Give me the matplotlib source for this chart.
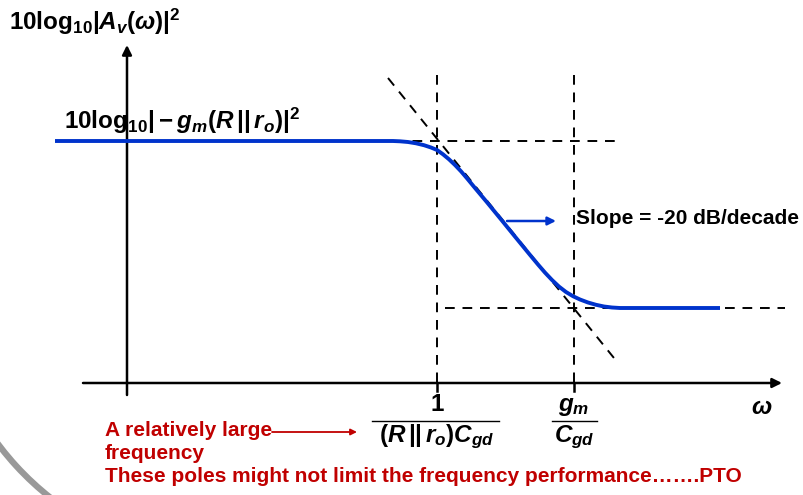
import matplotlib
matplotlib.use("Agg")
import matplotlib.pyplot as plt
from matplotlib.patches import Arc

plt.rcParams['font.family'] = ['Liberation Sans', 'DejaVu Sans']
plt.rcParams['mathtext.fontset'] = 'custom'
plt.rcParams['mathtext.rm'] = 'Liberation Sans:bold'
plt.rcParams['mathtext.bf'] = 'Liberation Sans:bold'
plt.rcParams['mathtext.it'] = 'Liberation Sans:italic:bold'
plt.rcParams['mathtext.sf'] = 'Liberation Sans:bold'

# ---- data (diagram coordinates, y grows downward) ----
curve_x = [55, 393, 400, 408, 416, 424, 431, 437, 443, 449, 455, 461, 467, 475,
           487, 502, 515, 530, 538, 545, 552, 559, 566, 573, 580, 588, 596, 604,
           612, 620, 628, 720]
curve_y = [141, 141, 141.3, 142, 143.3, 145.2, 147.5, 150, 154.3, 159.3, 165,
           171.3, 178.3, 188, 202.3, 220.6, 236.6, 254.9, 264.5, 272.6, 280,
           286.6, 292, 296.2, 299.5, 302.5, 304.8, 306.5, 307.5, 308, 308, 308]

pole_x = 437          # 1/((R||ro)Cgd)
zero_x = 574          # gm/Cgd
high_level = 141      # 10log10|-gm(R||ro)|^2
low_level = 308
asym_x = [388, 618]   # -20 dB/decade asymptote
asym_y = [78, 363]

axis_y = 383
axis_x = 127

y_label = r'$\mathrm{10log}_{\mathrm{10}}|A_v(\omega)|^2$'
gain_label = r'$\mathrm{10log}_{\mathrm{10}}|-g_m(R\,||\,r_o)|^2$'
slope_label = 'Slope = -20 dB/decade'
pole_num, pole_den = r'$\mathrm{1}$', r'$(R\,||\,r_o)C_{gd}$'
zero_num, zero_den = r'$g_m$', r'$C_{gd}$'
note_lines = ['A relatively large', 'frequency',
              'These poles might not limit the frequency performance\u2026\u2026.PTO']

# ---- figure ----
fig = plt.figure(figsize=(8.04, 4.95), dpi=100)
ax = fig.add_axes([0, 0, 1, 1])
ax.set_xlim(0, 804)
ax.set_ylim(495, 0)
ax.axis('off')

black = 'black'
blue = '#0033CC'
red = '#C00000'

# axes with arrows
ax.annotate('', xy=(axis_x, 45), xytext=(axis_x, 395),
            arrowprops=dict(arrowstyle='-|>', color=black, lw=1.8,
                            mutation_scale=14, shrinkA=0, shrinkB=0))
ax.annotate('', xy=(782, axis_y), xytext=(83, axis_y),
            arrowprops=dict(arrowstyle='-|>', color=black, lw=1.8,
                            mutation_scale=14, shrinkA=0, shrinkB=0))
for tx in (pole_x, zero_x):
    ax.plot([tx, tx], [axis_y, axis_y + 8], color=black, lw=1.8)

# dashed guides
dash = dict(color=black, lw=1.4, dashes=(5, 4))
ax.plot([pole_x, pole_x], [75, axis_y], **dash)
ax.plot([zero_x, zero_x], [75, axis_y], **dash)
ax.plot([395, 615], [high_level, high_level], **dash)
ax.plot([445, 785], [low_level, low_level], **dash)
ax.plot(asym_x, asym_y, **dash)

# response curve
ax.plot(curve_x, curve_y, color=blue, lw=2.8, solid_capstyle='butt',
        solid_joinstyle='round', zorder=5)

# slope arrow + label
ax.annotate('', xy=(556, 221), xytext=(507, 221),
            arrowprops=dict(arrowstyle='-|>', color=blue, lw=1.8,
                            mutation_scale=12, shrinkA=0, shrinkB=0))
ax.text(576, 219, slope_label, fontsize=15, fontweight='bold', color=black,
        ha='left', va='center')

# labels
ax.text(9, 22, y_label, fontsize=17.5, ha='left', va='center', color=black)
ax.text(64, 121, gain_label, fontsize=17.5, ha='left', va='center', color=black)

# fraction labels
ax.text(pole_x, 405, pole_num, fontsize=17.5, ha='center', va='center')
ax.plot([372, 499], [421, 421], color=black, lw=1.0)
ax.text(pole_x, 437, pole_den, fontsize=17.5, ha='center', va='center')

ax.text(zero_x, 407, zero_num, fontsize=17.5, ha='center', va='center')
ax.plot([552, 597], [421, 421], color=black, lw=1.0)
ax.text(zero_x, 437, zero_den, fontsize=17.5, ha='center', va='center')

ax.text(762, 408, r'$\omega$', fontsize=17.5, ha='center', va='center')

# red notes
for i, line in enumerate(note_lines):
    ax.text(105, 430 + 23.5 * i, line, fontsize=15, fontweight='bold', color=red,
            ha='left', va='center')
ax.annotate('', xy=(357, 432), xytext=(272, 432),
            arrowprops=dict(arrowstyle='-|>', color=red, lw=1.3,
                            mutation_scale=9, shrinkA=0, shrinkB=0))

# decorative arc
ax.add_patch(Arc((230, 270), 580, 580, theta1=100, theta2=175,
                 color='#999999', lw=4.5))

fig.savefig('out.png', dpi=100)
